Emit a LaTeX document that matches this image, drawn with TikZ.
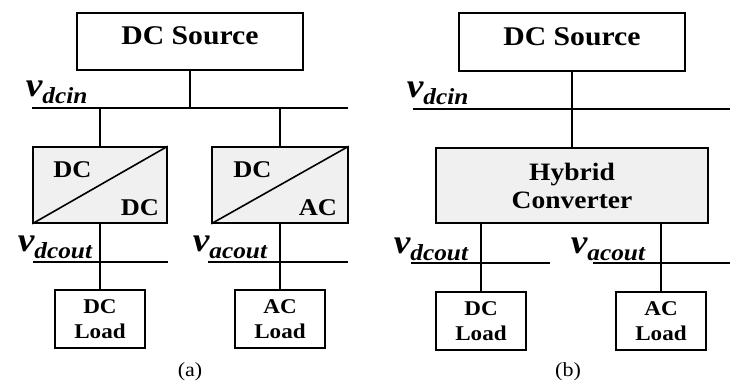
\documentclass[tikz,border=0pt]{standalone}
\usepackage{fontspec}
\setmainfont{Liberation Serif}[FakeStretch=1.1]
\usepackage{tikz}
\usetikzlibrary{positioning}
\newcommand{\vlab}[1]{\bfseries\itshape{\fontsize{34}{34}\selectfont v}\raisebox{-7pt}{\fontsize{23}{23}\selectfont #1}}

\begin{document}
\begin{tikzpicture}[x=1pt,y=-1pt,line width=1.6pt,
 box/.style={draw,minimum width=90pt,minimum height=58pt,align=center,inner sep=0pt,font=\bfseries\fontsize{21}{25}\selectfont},
 src/.style={box,minimum width=226pt,minimum height=57pt,text depth=11pt,font=\bfseries\fontsize{27}{30}\selectfont},
 conv/.style={draw,fill=gray!12,minimum width=134pt,minimum height=76pt,inner sep=0pt},
 tag/.style={inner sep=0pt,font=\bfseries\fontsize{24}{24}\selectfont},
 vl/.style={anchor=base west,inner sep=0pt}]
\useasboundingbox (0,0) rectangle (736,384);
% (a) two converters
\node[src] (srcA) at (190,41.5) {DC Source};
\node[conv] (dcdc) at (100,185) {};
\node[conv,minimum width=136pt] (dcac) at (280,185) {};
\draw (dcdc.south west)--(dcdc.north east);
\draw (dcac.south west)--(dcac.north east);
\node[tag] (dcdcin) at (72.5,170) {DC};
\node[tag] (dcdcout) at (140,208) {DC};
\node[tag] (dcacin) at (252.5,170) {DC};
\node[tag] (dcacout) at (318,208) {AC};
\node[box] (ldA1) at (100,319) {DC\\Load};
\node[box] (ldA2) at (280,319) {AC\\Load};
\coordinate (inA1) at (32,108);
\coordinate (inA2) at (348,108);
\coordinate (outA1) at (33,262);
\coordinate (outA2) at (168,262);
\coordinate (outA3) at (208,262);
\coordinate (outA4) at (348,262);
\draw (inA1)--(inA2);
\draw (outA1)--(outA2);
\draw (outA3)--(outA4);
\draw (srcA.south)--(srcA.south |- inA1);
\draw (dcdc.north |- inA1)--(dcdc.north);
\draw (dcac.north |- inA1)--(dcac.north);
\draw (dcdc.south)--(ldA1.north);
\draw (dcac.south)--(ldA2.north);
\node[vl] (vinA) at (25,96) {\vlab{dcin}};
\node[vl] (vdcA) at (17,251) {\vlab{dcout}};
\node[vl] (vacA) at (192,251) {\vlab{acout}};
\node[font=\fontsize{20}{20}\selectfont] (capA) at (190,372) {(a)};
% (b) hybrid converter
\node[src,minimum height=58pt] (srcB) at (572,42) {DC Source};
\node[draw,fill=gray!12,minimum width=272pt,minimum height=75pt,align=center,
 font=\bfseries\fontsize{25}{28}\selectfont] (hyb) at (572,185.5) {Hybrid\\Converter};
\node[box] (ldB1) at (481,321) {DC\\Load};
\node[box] (ldB2) at (661,321) {AC\\Load};
\coordinate (inB1) at (413,109);
\coordinate (inB2) at (730,109);
\coordinate (outB1) at (411,263);
\coordinate (outB2) at (550,263);
\coordinate (outB3) at (593,263);
\coordinate (outB4) at (730,263);
\draw (inB1)--(inB2);
\draw (outB1)--(outB2);
\draw (outB3)--(outB4);
\draw (srcB.south)--(hyb.north);
\draw (ldB1.north |- hyb.south)--(ldB1.north);
\draw (ldB2.north |- hyb.south)--(ldB2.north);
\node[vl] (vinB) at (406,97) {\vlab{dcin}};
\node[vl] (vdcB) at (393,253) {\vlab{dcout}};
\node[vl] (vacB) at (570,253) {\vlab{acout}};
\node[font=\fontsize{20}{20}\selectfont] (capB) at (568,372) {(b)};
\end{tikzpicture}
\end{document}
